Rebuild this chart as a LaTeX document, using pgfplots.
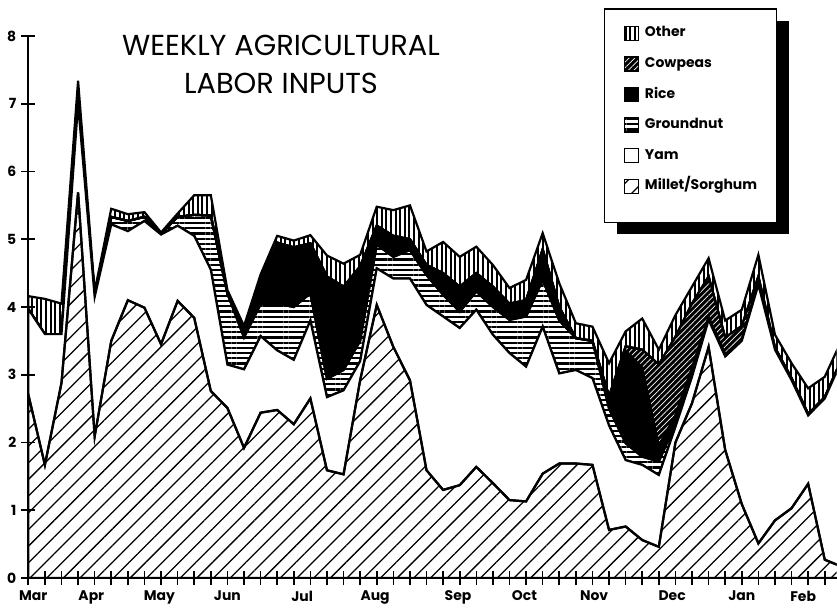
\documentclass[border=0pt]{standalone}
\usepackage{fontspec}
\setmainfont{Poppins}
\usepackage{pgfplots}
\usepackage{pgfplotstable}
\pgfplotsset{compat=1.18}
\usetikzlibrary{patterns.meta}
\pgfdeclarelayer{background}
\pgfsetlayers{background,main}

% weekly labour inputs, stacked: millet/sorghum, yam, groundnut, rice, cowpeas, other
\pgfplotstableread{
w  ms   ym   gn   ri   cp   ot
0  2.71 1.26 0    0    0    0.19
1  1.67 1.93 0    0    0    0.52
2  2.88 0.72 0    0    0    0.45
3  5.69 1.31 0.05 0    0    0.29
4  2.09 2.06 0.03 0    0    0.05
5  3.50 1.72 0.11 0    0    0.12
6  4.10 1.02 0.15 0    0    0.10
7  3.99 1.28 0.06 0    0    0.07
8  3.45 1.62 0.01 0    0    0.02
9  4.09 1.11 0.13 0    0    0.05
10 3.84 1.21 0.31 0    0    0.29
11 2.76 1.79 0.80 0    0    0.30
12 2.51 0.64 1.05 0    0    0.05
13 1.92 1.16 0.47 0.07 0    0.10
14 2.44 1.13 0.47 0.36 0    0.08
15 2.48 0.88 0.69 0.90 0    0.10
16 2.27 0.95 0.78 0.88 0    0.10
17 2.65 1.15 0.40 0.74 0    0.12
18 1.59 1.08 0.27 1.51 0    0.31
19 1.53 1.24 0.30 1.23 0    0.34
20 2.92 0.28 0.30 1.10 0    0.17
21 4.03 0.54 0.35 0.28 0    0.28
22 3.41 1.01 0.32 0.31 0    0.38
23 2.92 1.50 0.42 0.16 0    0.50
24 1.59 2.44 0.44 0.15 0    0.20
25 1.30 2.56 0.32 0.32 0    0.46
26 1.37 2.32 0.24 0.37 0    0.44
27 1.64 2.32 0.27 0.27 0    0.39
28 1.40 2.19 0.41 0.30 0    0.32
29 1.15 2.17 0.49 0.24 0    0.23
30 1.13 1.99 0.74 0.24 0    0.30
31 1.54 2.17 0.69 0.45 0    0.24
32 1.69 1.33 0.78 0.20 0    0.35
33 1.69 1.38 0.47 0    0    0.22
34 1.67 1.28 0.55 0    0    0.21
35 0.71 1.54 0.25 0.18 0    0.49
36 0.76 0.98 0.25 1.36 0.07 0.22
37 0.56 1.11 0.12 1.31 0.27 0.46
38 0.46 1.06 0.20 0.23 1.20 0.22
39 2.00 0.23 0.05 0.12 1.16 0.32
40 2.58 0.39 0.03 0.10 0.95 0.25
41 3.41 0.40 0.02 0.02 0.60 0.27
42 1.89 1.38 0    0.03 0.25 0.25
43 1.09 2.41 0    0.02 0.20 0.24
44 0.51 3.82 0.02 0.02 0.08 0.32
45 0.85 2.52 0    0.03 0    0.19
46 1.03 1.89 0    0.03 0    0.22
47 1.39 1.01 0    0.02 0    0.38
48 0.27 2.38 0    0.02 0    0.30
49 0.17 3.03 0    0.02 0    0.28
}\labordata

\pgfplotsset{
    millet/.style={draw=black, line width=1.1bp, pattern={Lines[angle=45,distance=5.9bp,line width=0.65bp]}},
    yam/.style={draw=black, line width=1.1bp, fill=white},
    groundnut/.style={draw=black, line width=1.1bp, pattern={Lines[angle=0,distance=2.6bp,line width=1.1bp]}},
    rice/.style={draw=black, line width=1.1bp, fill=black},
    cowpeas/.style={draw=black, line width=1.1bp, fill=black,
        postaction={pattern={Lines[angle=45,distance=2bp,line width=0.35bp]}, pattern color=white}},
    other/.style={draw=black, line width=1.1bp, pattern={Lines[angle=90,distance=2.3bp,line width=1bp]}},
}

\begin{document}
\begin{tikzpicture}
\useasboundingbox (-14.15bp,-15bp) rectangle (404.35bp,289bp);
\begin{axis}[
    at={(0,0)}, anchor=south west,
    scale only axis, width=404.2bp, height=271bp,
    xmin=0, xmax=48.72, ymin=0, ymax=8,
    axis lines=left,
    axis line style={-, line width=1bp},
    axis on top,
    tick align=center,
    major tick length=7bp,
    tick style={black, line width=0.8bp},
    xtick={0,...,48}, xticklabels={},
    ytick={0,...,8},
    extra x ticks={0.3,3.8,7.9,12.0,16.5,20.9,25.9,29.9,34.1,38.8,43.0,46.7},
    extra x tick labels={Mar,Apr,May,Jun,Jul,Aug,Sep,Oct,Nov,Dec,Jan,Feb},
    extra x tick style={major tick length=0pt},
    /pgf/number format/assume math mode=true,
    x tick label style={font=\bfseries\fontsize{7}{8}\selectfont, yshift=-3bp},
    y tick label style={font=\bfseries\fontsize{7}{8}\selectfont, xshift=1bp},
    stack plots=y,
    legend image code/.code={\path (0bp,0bp);
        \draw[#1, line width=0.7bp] (1bp,-3.5bp) rectangle (8bp,3.5bp);},
    legend cell align=left,
    legend style={name=lgd, at={(0.7131,1.0498)}, anchor=north west,
        draw=none, fill=none,
        font=\bfseries\fontsize{7}{8}\selectfont,
        inner xsep=8bp, inner ysep=7bp,
        nodes={inner sep=1.5bp, text height=5.2bp, text depth=1.6bp},
        row sep=5.5bp, column sep=1.5bp},
]
\addplot[millet, forget plot] table[x=w, y=ms] {\labordata} \closedcycle;
\addplot[yam, forget plot] table[x=w, y=ym] {\labordata} \closedcycle;
\addplot[groundnut, forget plot] table[x=w, y=gn] {\labordata} \closedcycle;
\addplot[rice, forget plot] table[x=w, y=ri] {\labordata} \closedcycle;
\addplot[cowpeas, forget plot] table[x=w, y=cp] {\labordata} \closedcycle;
\addplot[other, forget plot] table[x=w, y=ot] {\labordata} \closedcycle;

\addlegendimage{other}\addlegendentry{Other}
\addlegendimage{cowpeas}\addlegendentry{Cowpeas}
\addlegendimage{rice}\addlegendentry{Rice}
\addlegendimage{groundnut}\addlegendentry{Groundnut}
\addlegendimage{yam}\addlegendentry{Yam}
\addlegendimage{millet}\addlegendentry{Millet/Sorghum}
\end{axis}
\begin{pgfonlayer}{background}
\fill[black] ([shift={(6bp,-6bp)}]lgd.north west) rectangle ([shift={(6bp,-12bp)}]lgd.south east);
\filldraw[fill=white, draw=black, line width=0.6bp] (lgd.north west) rectangle ([yshift=-6bp]lgd.south east);
\end{pgfonlayer}
\node[align=center, font=\fontsize{14.5}{19}\selectfont] at (126.35bp,257bp)
    {WEEKLY AGRICULTURAL\\LABOR INPUTS};
\end{tikzpicture}
\end{document}
